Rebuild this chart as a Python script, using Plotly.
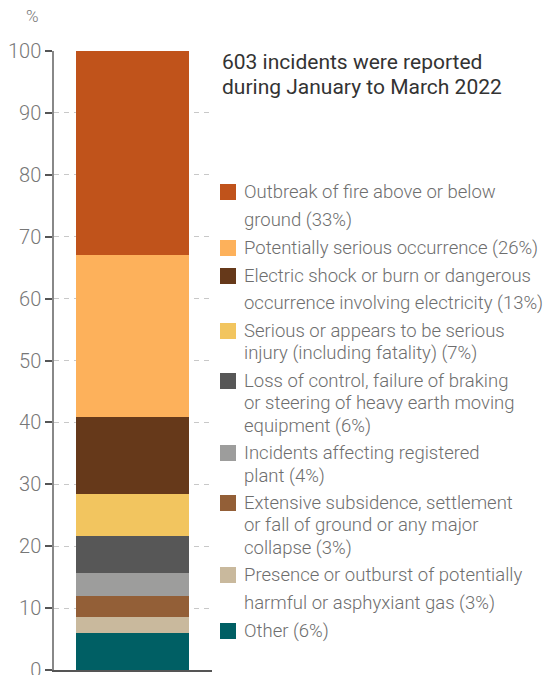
import plotly.graph_objects as go

# ---- data (bottom to top of the stack) ----
categories = [
    "Other",
    "Presence or outburst of potentially harmful or asphyxiant gas",
    "Extensive subsidence, settlement or fall of ground or any major collapse",
    "Incidents affecting registered plant",
    "Loss of control, failure of braking or steering of heavy earth moving equipment",
    "Serious or appears to be serious injury (including fatality)",
    "Electric shock or burn or dangerous occurrence involving electricity",
    "Potentially serious occurrence",
    "Outbreak of fire above or below ground",
]
values = [5.9, 2.7, 3.3, 3.7, 6.1, 6.8, 12.3, 26.2, 33.0]
colors = ["#005F64", "#C9B99D", "#935F37", "#9D9D9C", "#575757",
          "#F2C55F", "#66391A", "#FDB15B", "#C0531B"]

# legend text lines (top to bottom, as in the picture)
legend_lines = [
    ["Outbreak of fire above or below", "ground (33%)"],
    ["Potentially serious occurrence (26%)"],
    ["Electric shock or burn or dangerous", "occurrence involving electricity (13%)"],
    ["Serious or appears to be serious", "injury (including fatality) (7%)"],
    ["Loss of control, failure of braking", "or steering of heavy earth moving", "equipment (6%)"],
    ["Incidents affecting registered", "plant (4%)"],
    ["Extensive subsidence, settlement", "or fall of ground or any major", "collapse (3%)"],
    ["Presence or outburst of potentially", "harmful or asphyxiant gas (3%)"],
    ["Other (6%)"],
]
legend_colors = colors[::-1]
# pixel y-centres of each text line
legend_y = [
    [192, 220],
    [248],
    [276, 303],
    [331, 353],
    [381, 403, 426],
    [453, 476],
    [503, 525, 548],
    [575, 603],
    [631],
]
title_lines = ["603 incidents were reported", "during January to March 2022"]
title_y = [62, 87]

W, H = 545, 675
L, R, T, B = 54, 212, 51, 670


def px(x):
    return (x - L) / (R - L)


def py(y):
    return (B - y) / (B - T)


fig = go.Figure()
for cat, v, c in zip(categories, values, colors):
    fig.add_trace(go.Bar(x=[0], y=[v], name=cat, marker=dict(color=c, line=dict(width=0)),
                         width=1, hoverinfo="name+y"))

annotations = []
shapes = []
font_fam = "Roboto, 'Open Sans', sans-serif"
for t, y in zip(title_lines, title_y):
    annotations.append(dict(x=px(220), y=py(y), xref="paper", yref="paper", text=t,
                            showarrow=False, xanchor="left", yanchor="middle",
                            font=dict(family=font_fam, size=21, color="#333333", weight=400)))
for lines, ys, c in zip(legend_lines, legend_y, legend_colors):
    for t, y in zip(lines, ys):
        annotations.append(dict(x=px(242), y=py(y), xref="paper", yref="paper", text=t,
                                showarrow=False, xanchor="left", yanchor="middle",
                                font=dict(family=font_fam, size=18.5, color="#6E6E6E", weight=300)))
    y0 = ys[0]
    shapes.append(dict(type="rect", xref="paper", yref="paper",
                       x0=px(220), x1=px(236), y0=py(y0 + 8), y1=py(y0 - 8),
                       fillcolor=c, line=dict(width=0)))
annotations.append(dict(x=px(32), y=py(16), xref="paper", yref="paper", text="%",
                        showarrow=False, xanchor="center", yanchor="middle",
                        font=dict(family=font_fam, size=17, color="#777777", weight=300)))

fig.update_layout(
    width=W, height=H,
    margin=dict(l=L, r=W - R, t=T, b=H - B, pad=0, autoexpand=False),
    barmode="stack",
    showlegend=False,
    plot_bgcolor="white", paper_bgcolor="white",
    annotations=annotations, shapes=shapes,
    xaxis=dict(range=[-0.695, 0.704], showticklabels=False, ticks="",
               showgrid=False, zeroline=False, showline=True, automargin=False,
               linecolor="#555555", linewidth=1.5, fixedrange=True),
    yaxis=dict(range=[0, 100], tickvals=list(range(0, 101, 10)),
               ticks="outside", ticklen=7, tickcolor="#555555", tickwidth=1.5,
               showline=True, linecolor="#888888", linewidth=1.5,
               showgrid=True, gridcolor="#C8C8C8", gridwidth=1, griddash="5px,5px",
               zeroline=False, ticklabeloverflow="allow", automargin=False,
               tickfont=dict(family=font_fam, size=20, color="#777777", weight=300),
               fixedrange=True),
)

fig.write_html("out.html")
